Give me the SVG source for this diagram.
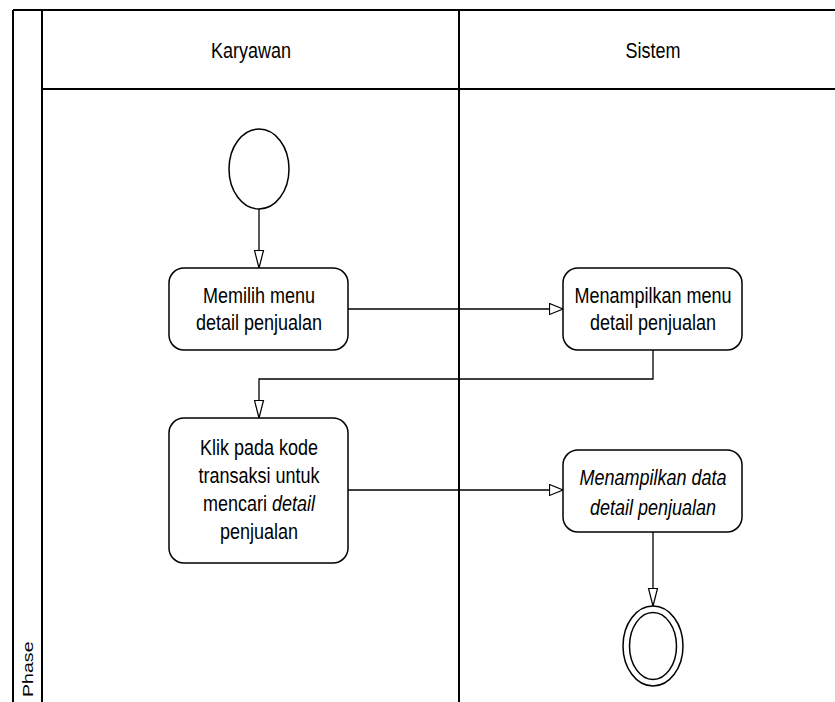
<svg xmlns="http://www.w3.org/2000/svg" width="835" height="702" viewBox="0 0 835 702">
  <defs>
    <!-- open triangular heads: horizontal and vertical flows -->
    <marker id="arrowH" markerWidth="16" markerHeight="13" refX="14.5" refY="6.5" orient="auto" markerUnits="userSpaceOnUse">
      <path d="M1,1 L14.5,6.5 L1,12 Z" fill="#fff" stroke="#000" stroke-width="1.2"/>
    </marker>
    <marker id="arrowV" markerWidth="20" markerHeight="12" refX="18.5" refY="6" orient="auto" markerUnits="userSpaceOnUse">
      <path d="M1,1.5 L18.5,6 L1,10.5 Z" fill="#fff" stroke="#000" stroke-width="1.2"/>
    </marker>
  </defs>
  <style>
    .frame { fill: none; stroke: #000; stroke-width: 2; }
    .act { fill: #fff; stroke: #000; stroke-width: 1.5; }
    .node { fill: #fff; stroke: #000; stroke-width: 1.5; }
    .edge { fill: none; stroke: #000; stroke-width: 1.3; }
    .h { marker-end: url(#arrowH); }
    .v { marker-end: url(#arrowV); }
    text { font-family: "Liberation Sans", Arial, sans-serif; font-size: 18px; fill: #000; text-anchor: middle; }
    .it { font-style: italic; }
  </style>
  <rect width="835" height="702" fill="#fff"/>

  <!-- swimlane frame -->
  <g id="lanes">
    <line class="frame" x1="13" y1="10" x2="835" y2="10"/>
    <line class="frame" x1="13" y1="10" x2="13" y2="702"/>
    <line class="frame" x1="42" y1="10" x2="42" y2="702"/>
    <line class="frame" x1="42" y1="89" x2="835" y2="89"/>
    <line class="frame" x1="459" y1="10" x2="459" y2="702"/>
    <text transform="translate(251,58) scale(1,1.2)">Karyawan</text>
    <text transform="translate(653,58) scale(1,1.2)">Sistem</text>
    <text transform="translate(33,697) rotate(-90) scale(1.4,1)" style="font-size:14px;text-anchor:start">Phase</text>
  </g>

  <!-- connectors -->
  <g id="connectors">
    <path class="edge v" d="M259,209 L259,268"/>
    <path class="edge h" d="M348,309 L563,309"/>
    <path class="edge v" d="M653,350 L653,379 L259,379 L259,418"/>
    <path class="edge h" d="M348,490 L563,490"/>
    <path class="edge v" d="M653,532 L653,606"/>
  </g>

  <g id="start">
    <ellipse class="node" cx="259" cy="169" rx="30" ry="40"/>
  </g>

  <g id="pilih-menu">
    <rect class="act" x="169" y="268" width="179" height="82" rx="15"/>
    <text transform="translate(259,303) scale(1,1.2)">Memilih menu</text>
    <text transform="translate(259,330) scale(1,1.2)">detail penjualan</text>
  </g>

  <g id="tampil-menu">
    <rect class="act" x="563" y="268" width="179" height="82" rx="15"/>
    <text transform="translate(653,303) scale(1,1.2)">Menampilkan menu</text>
    <text transform="translate(653,330) scale(1,1.2)">detail penjualan</text>
  </g>

  <g id="klik-kode">
    <rect class="act" x="169" y="418" width="179" height="145" rx="15"/>
    <text transform="translate(259,455) scale(1,1.2)">Klik pada kode</text>
    <text transform="translate(259,483) scale(1,1.2)">transaksi untuk</text>
    <text transform="translate(259,511) scale(1,1.2)">mencari <tspan class="it">detail</tspan></text>
    <text transform="translate(259,539) scale(1,1.2)">penjualan</text>
  </g>

  <g id="tampil-data">
    <rect class="act" x="563" y="450" width="179" height="82" rx="15"/>
    <text class="it" transform="translate(653,485) scale(1,1.2)">Menampilkan data</text>
    <text class="it" transform="translate(653,515) scale(1,1.2)">detail penjualan</text>
  </g>

  <g id="end">
    <ellipse class="node" cx="653" cy="646" rx="30" ry="40"/>
    <ellipse class="node" cx="653" cy="646" rx="23.5" ry="33.5"/>
  </g>
</svg>
